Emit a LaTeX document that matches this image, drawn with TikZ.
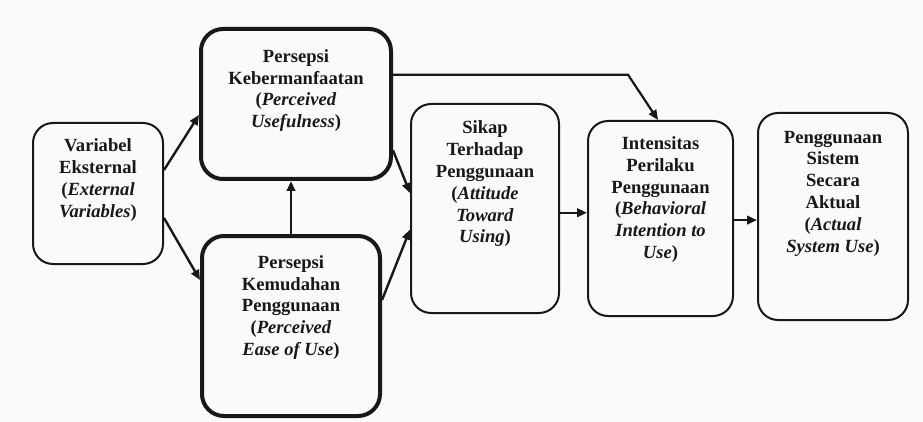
\documentclass[tikz,border=0pt]{standalone}
\usepackage{fontspec}
\setmainfont{Liberation Serif}
\usetikzlibrary{arrows.meta,calc}
\definecolor{bgc}{RGB}{250,250,250}
\definecolor{ink}{RGB}{24,24,24}
\newcommand\en[1]{\textit{#1}}
\tikzset{
  thinbox/.style={draw=ink, line width=2pt, rounded corners=20pt, inner sep=0pt},
  thickbox/.style={draw=ink, line width=4pt, rounded corners=22pt, inner sep=0pt},
  label text/.style={align=center, inner sep=0pt, text=ink,
    font={\fontsize{18.6pt}{21.8pt}\selectfont\bfseries}},
  conn/.style={draw=ink, line width=2.4pt, -{Triangle[length=10pt,width=8.5pt]}}
}
\begin{document}
\begin{tikzpicture}[x=1pt,y=-1pt]
\fill[bgc] (0,0) rectangle (923,422);
\useasboundingbox (0,0) rectangle (923,422);

% boxes
\node[thinbox, minimum width=130pt, minimum height=141pt] (ve) at (98,193.5) {};
\node[thickbox, minimum width=190pt, minimum height=150pt] (pu) at (296,104) {};
\node[thickbox, minimum width=178pt, minimum height=180pt] (peou) at (291,326) {};
\node[thinbox, minimum width=148pt, minimum height=209pt] (sikap) at (485,208.5) {};
\node[thinbox, minimum width=145pt, minimum height=195pt] (int) at (660.5,218.5) {};
\node[thinbox, minimum width=150pt, minimum height=207pt] (peng) at (833,216.5) {};

% texts
\node[label text] (vet) at (98,180) {Variabel\\Eksternal\\(\en{External}\\\en{Variables})};
\node[label text] (put) at (296,90.5) {Persepsi\\Kebermanfaatan\\(\en{Perceived}\\\en{Usefulness})};
\node[label text] (peout) at (291,307.5) {Persepsi\\Kemudahan\\Penggunaan\\(\en{Perceived}\\\en{Ease of Use})};
\node[label text] (sikapt) at (485,184) {Sikap\\Terhadap\\Penggunaan\\(\en{Attitude}\\\en{Toward}\\\en{Using})};
\node[label text] (intt) at (660.5,199.5) {Intensitas\\Perilaku\\Penggunaan\\(\en{Behavioral}\\\en{Intention to}\\\en{Use})};
\node[label text] (pengt) at (833,193.5) {Penggunaan\\Sistem\\Secara\\Aktual\\(\en{Actual}\\\en{System Use})};

% connector anchor points
\coordinate (a1s) at ($(ve.north east)!0.336!(ve.south east)$);
\coordinate (a1e) at ($(pu.north west)!0.571!(pu.south west)$);
\coordinate (a2s) at ($(ve.north east)!0.671!(ve.south east)$);
\coordinate (a2e) at ($(peou.north west)!0.25!(peou.south west)$);
\coordinate (a4s) at ($(pu.north east)!0.80!(pu.south east)$);
\coordinate (a4e) at ($(sikap.north west)!0.427!(sikap.south west)$);
\coordinate (a5s) at ($(peou.north east)!0.359!(peou.south east)$);
\coordinate (a5e) at ($(sikap.north west)!0.60!(sikap.south west)$);
\coordinate (a6s) at ($(pu.north east)!0.31!(pu.south east)$);
\coordinate (bendx) at (628,0);
\coordinate (a6e) at ($(int.north west)!0.483!(int.north east)$);
\coordinate (a7s) at ($(sikap.north east)!0.52!(sikap.south east)$);
\coordinate (a8s) at ($(int.north east)!0.508!(int.south east)$);

% connectors
\draw[conn] (a1s) -- (a1e);
\draw[conn] (a2s) -- (a2e);
\draw[conn] (peou.north) -- (peou.north |- pu.south);
\draw[conn] (a4s) -- (a4e);
\draw[conn] (a5s) -- (a5e);
\draw[conn, line width=2.2pt] (a6s) -- (a6s -| bendx) -- (a6e);
\draw[conn] (a7s) -- (a7s -| int.west);
\draw[conn] (a8s) -- (a8s -| peng.west);
\end{tikzpicture}
\end{document}
